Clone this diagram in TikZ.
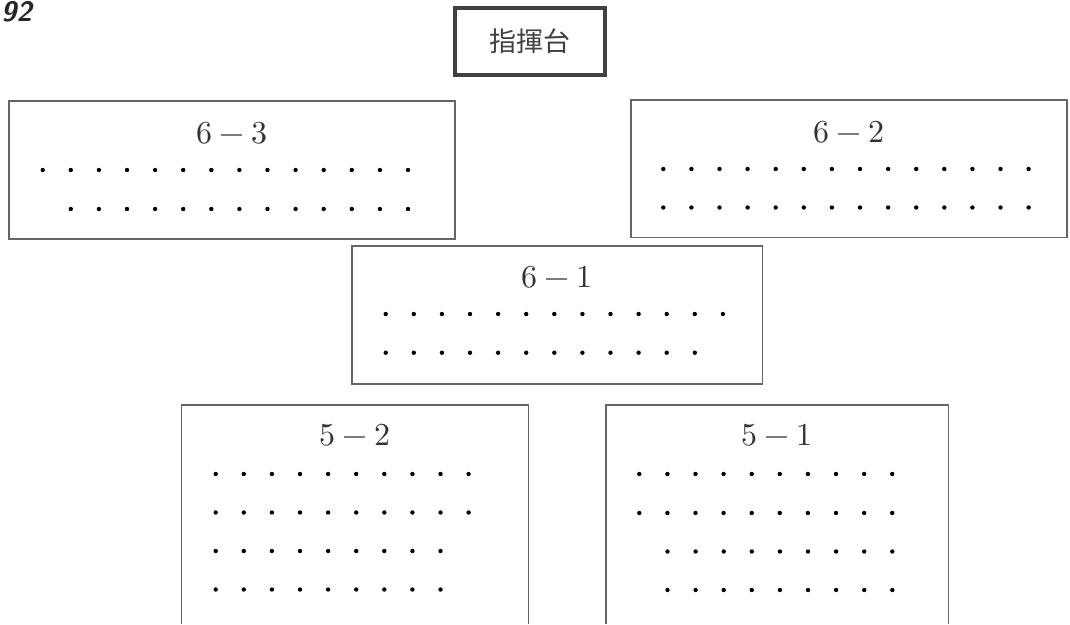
\documentclass[tikz,border=0pt]{standalone}
\usepackage{unicode-math}
\newfontfamily\cjk{Noto Sans CJK JP}
\usetikzlibrary{positioning}
\def\dx{28.1}
\def\dd{2.2pt}

\begin{document}
\begin{tikzpicture}
    [
        x=1pt, y=-1pt,
        sect/.style={draw=black!60, line width=1.3pt},
        seat/.style={fill=black},
        lbl/.style={text=black!80, inner sep=0pt, font=\fontsize{32}{38}\selectfont},
        podium/.style={draw=black!75, line width=3.5pt, minimum width=150, minimum height=67,
            inner sep=0pt, text=black!75, font=\cjk\fontsize{27}{30}\selectfont},
        cutnum/.style={anchor=base west, inner sep=0pt, text=black!85,
            font=\sffamily\bfseries\itshape\fontsize{28}{30}\selectfont}
    ]
%    \draw[style=help lines,step=50] (0,0) grid (1070,624);
    \node[cutnum] (num) at (1,21.5) {92};
    \node[podium] (podium) at (530,41.5) {指揮台};

    % sections
    \draw[sect] (9,101) rectangle (455,239);
    \draw[sect] (631,100) rectangle (1067,237.5);
    \draw[sect] (352,246) rectangle (762.5,384);
    \draw[sect] (181.5,624) |- (528.5,405) -- (528.5,624);
    \draw[sect] (606,624) |- (948.5,405) -- (948.5,624);

    \node[lbl] (l63) at (232,133) {$6-3$};
    \node[lbl] (l62) at (849,132) {$6-2$};
    \node[lbl] (l61) at (557,277) {$6-1$};
    \node[lbl] (l52) at (355,435) {$5-2$};
    \node[lbl] (l51) at (777,435) {$5-1$};

    % seats: first x / y / last index
    \foreach \x/\y/\n in {42.7/170/13, 70.8/209/12,
                          663.3/169/13, 663.3/207.5/13,
                          385.7/314/12, 385.7/352.7/11,
                          215.7/474/9, 215.7/512.5/9, 215.7/551/8, 215.7/589.5/8,
                          639.3/474/9, 639.3/513/9, 667.5/551.5/8, 667.5/590/8}
    {
        \foreach \i in {0,...,\n}
            \fill[seat] (\x+\i*\dx,\y) circle (\dd);
    }

    \pgfresetboundingbox
    \useasboundingbox (0,0) rectangle (1070,624);
\end{tikzpicture}
\end{document}
